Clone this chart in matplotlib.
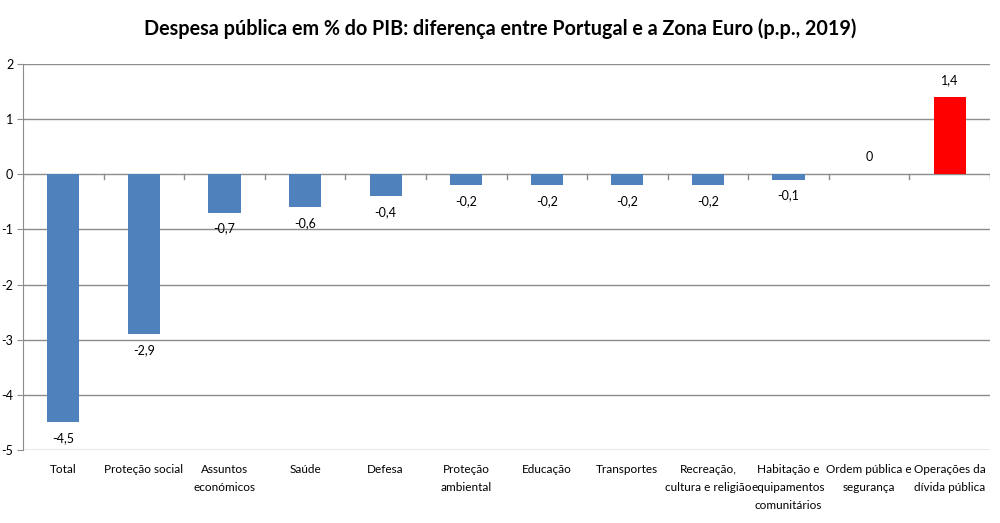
import matplotlib.pyplot as plt
import numpy as np

# ─────────────────────────────────────────────
# DATA
# ─────────────────────────────────────────────
categories = [
    'Total', 'Proteção social', 'Assuntos\neconómicos', 'Saúde', 'Defesa',
    'Proteção\nambiental', 'Educação', 'Transportes', 'Recreação,\ncultura e religião',
    'Habitação e\nequipamentos\ncomunitários', 'Ordem pública e\nsegurança',
    'Operações da\ndívida pública',
]
values = [-4.5, -2.9, -0.7, -0.6, -0.4, -0.2, -0.2, -0.2, -0.2, -0.1, 0.0, 1.4]
yticks = [-5, -4, -3, -2, -1, 0, 1, 2]

BLUE = '#4F81BD'
RED = '#FF0000'
GRID = '#8C8C8C'

plt.rcParams['font.family'] = ['Lato', 'DejaVu Sans']

fig = plt.figure(figsize=(10, 5.23), dpi=100)
ax = fig.add_axes([0.023, 0.1396, 0.967, 0.738])

x = np.arange(len(categories))
colors = [RED if v > 0 else BLUE for v in values]
ax.bar(x, values, width=0.4, color=colors, zorder=3)

ax.set_xlim(-0.5, len(categories) - 0.5)
ax.set_ylim(-5, 2)
ax.set_yticks(yticks)
ax.set_yticklabels([str(t) for t in yticks], fontsize=9)
ax.yaxis.grid(True, color=GRID, linewidth=1)
ax.set_axisbelow(True)

for s in ['top', 'right', 'bottom']:
    ax.spines[s].set_visible(False)
ax.spines['left'].set_color(GRID)
ax.tick_params(axis='y', length=4, color=GRID, pad=3)

# category axis at zero with ticks at category boundaries
ax.set_xticks([])
for b in np.arange(-0.5, len(categories), 1.0):
    ax.plot([b, b], [0, -0.08], color=GRID, linewidth=1, zorder=2)

# data labels
for xi, v in zip(x, values):
    lbl = f'{v:g}'.replace('.', ',')
    if v < 0:
        ax.annotate(lbl, (xi, v), xytext=(0, -7), textcoords='offset points',
                    ha='center', va='top', fontsize=9)
    else:
        ax.annotate(lbl, (xi, v), xytext=(0, 8), textcoords='offset points',
                    ha='center', va='bottom', fontsize=9)

# category labels at the bottom
for xi, c in zip(x, categories):
    ax.text(xi, -5.25, c, ha='center', va='top', fontsize=8.5, linespacing=1.8)

fig.text(0.5, 0.946, 'Despesa pública em % do PIB: diferença entre Portugal e a Zona Euro (p.p., 2019)',
         fontsize=14.2, fontweight='bold', ha='center', va='center')

fig.savefig('out.png', dpi=100)
